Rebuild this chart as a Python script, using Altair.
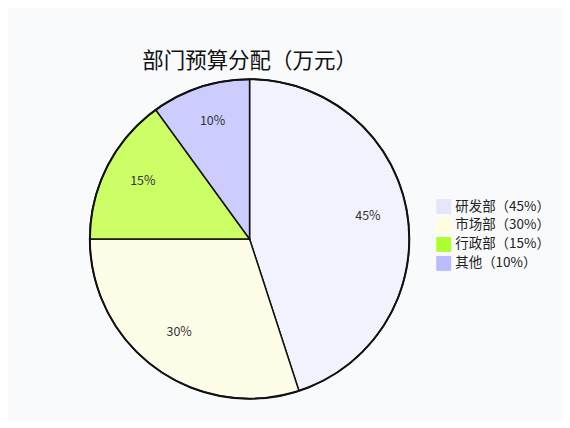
"""
Pie chart of department budget shares.
"""
import pandas as pd
import altair as alt

# Chart data.
depts = ["研发部", "市场部", "行政部", "其他"]
shares = [45, 30, 15, 10]
pieColors = ["#f2f2fe", "#fefee8", "#ccff66", "#ccccff"]
legendColors = ["#e6e6fa", "#ffffe0", "#adff2f", "#bbbbff"]
titleText = "部门预算分配（万元）"

FONT = "Noto Sans CJK SC"

# Build table for the chart.
legendLabels = [d + "（" + str(s) + "%）" for d, s in zip(depts, shares)]
data = pd.DataFrame({
    "idx": list(range(len(depts))),
    "dept": depts,
    "share": shares,
    "label": [str(s) + "%" for s in shares],
    "legend_label": legendLabels,
    "pie_color": pieColors,
})

base = alt.Chart(data).encode(
    theta=alt.Theta("share:Q", stack=True),
    order=alt.Order("idx:O"),
)

# Slices.
pie = base.mark_arc(outerRadius=160, stroke="#111111", strokeWidth=1.5).encode(
    fill=alt.Fill("pie_color:N", scale=None)
)

# Thicker outer rim.
rim = alt.Chart(data).mark_arc(
    outerRadius=160, fillOpacity=0, stroke="#111111", strokeWidth=2
).encode(theta=alt.Theta("sum(share):Q"))

# Percentage labels.
text = base.mark_text(
    radius=120, fontSize=12.5, font=FONT, fill="#333333",
    align="center", baseline="alphabetic"
).encode(text="label:N")

# Invisible arcs that carry the legend.
legend = base.mark_arc(outerRadius=0).encode(
    color=alt.Color(
        "legend_label:N",
        sort=legendLabels,
        scale=alt.Scale(domain=legendLabels, range=legendColors),
        legend=alt.Legend(
            title=None,
            orient="none",
            legendX=347,
            legendY=120,
            symbolType="square",
            symbolSize=225,
            symbolStrokeWidth=0,
            labelFont=FONT,
            labelFontSize=13.5,
            labelColor="#222222",
            rowPadding=4,
        ),
    )
)

chart = alt.layer(pie, rim, text, legend).properties(
    width=320,
    height=320,
    padding={"left": 78, "top": 42, "right": 12, "bottom": 18},
    background="#f9fafc",
    title=alt.Title(
        titleText,
        font=FONT,
        fontSize=21.5,
        fontWeight="normal",
        color="#111111",
        anchor="middle",
        offset=3,
    ),
).configure_view(stroke=None)

chart.save("out.html", embed_options={"renderer": "svg", "actions": False})
